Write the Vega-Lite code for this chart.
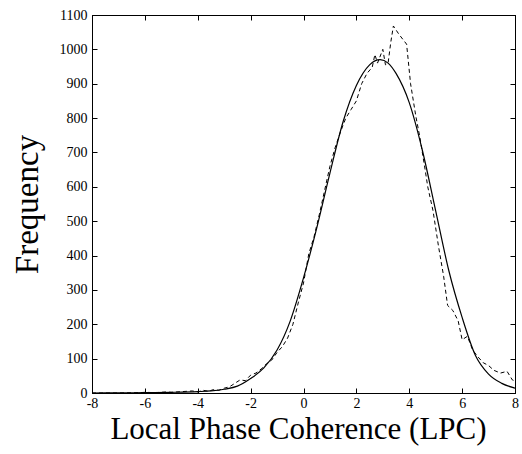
{
  "$schema": "https://vega.github.io/schema/vega-lite/v6.json",
  "autosize": "none",
  "width": 423,
  "height": 378,
  "padding": {"left": 92, "top": 15, "right": 7, "bottom": 61},
  "background": "white",
  "config": {
    "view": {"stroke": "black", "strokeWidth": 1},
    "axis": {
      "domain": true, "domainColor": "black", "grid": false,
      "tickColor": "black", "tickSize": -5, "labelColor": "black",
      "labelFont": "Liberation Sans Narrow", "labelFontSize": 14,
      "labelFlush": false, "labelOverlap": false,
      "titleFont": "Liberation Serif", "titleFontWeight": "normal", "titleColor": "black"
    }
  },
  "datasets": {
    "fit": [
      {"x": -8, "f": 0}, {"x": -7, "f": 0.5}, {"x": -6, "f": 1}, {"x": -5, "f": 2},
      {"x": -4, "f": 4}, {"x": -3.5, "f": 6}, {"x": -3, "f": 11}, {"x": -2.5, "f": 20},
      {"x": -2, "f": 42}, {"x": -1.5, "f": 73}, {"x": -1, "f": 125}, {"x": -0.5, "f": 210},
      {"x": 0, "f": 335}, {"x": 0.5, "f": 480}, {"x": 1, "f": 640}, {"x": 1.5, "f": 790},
      {"x": 2, "f": 895}, {"x": 2.5, "f": 955}, {"x": 2.9, "f": 970}, {"x": 3.2, "f": 960},
      {"x": 3.5, "f": 930}, {"x": 4, "f": 845}, {"x": 4.5, "f": 705}, {"x": 5, "f": 530},
      {"x": 5.5, "f": 355}, {"x": 6, "f": 220}, {"x": 6.5, "f": 110}, {"x": 7, "f": 55},
      {"x": 7.5, "f": 28}, {"x": 8, "f": 14}
    ],
    "hist": [
      {"x": -8, "f": 0}, {"x": -7, "f": 0}, {"x": -6.2, "f": 1}, {"x": -6, "f": 2},
      {"x": -5.6, "f": 1}, {"x": -5.2, "f": 3}, {"x": -5, "f": 2}, {"x": -4.6, "f": 4},
      {"x": -4.2, "f": 6}, {"x": -4, "f": 3}, {"x": -3.8, "f": 8}, {"x": -3.6, "f": 5},
      {"x": -3.4, "f": 10}, {"x": -3.2, "f": 8}, {"x": -3, "f": 14}, {"x": -2.8, "f": 18},
      {"x": -2.6, "f": 28}, {"x": -2.4, "f": 38}, {"x": -2.2, "f": 36}, {"x": -2, "f": 52},
      {"x": -1.8, "f": 58}, {"x": -1.6, "f": 70}, {"x": -1.4, "f": 85}, {"x": -1.2, "f": 96},
      {"x": -1, "f": 118}, {"x": -0.8, "f": 135}, {"x": -0.6, "f": 160}, {"x": -0.4, "f": 200},
      {"x": -0.2, "f": 262}, {"x": 0, "f": 320}, {"x": 0.2, "f": 405}, {"x": 0.4, "f": 455},
      {"x": 0.6, "f": 520}, {"x": 0.8, "f": 590}, {"x": 1, "f": 660}, {"x": 1.2, "f": 715},
      {"x": 1.4, "f": 760}, {"x": 1.6, "f": 800}, {"x": 1.8, "f": 825}, {"x": 2, "f": 850},
      {"x": 2.2, "f": 900}, {"x": 2.4, "f": 930}, {"x": 2.6, "f": 948}, {"x": 2.7, "f": 985},
      {"x": 2.8, "f": 960}, {"x": 3.0, "f": 1000}, {"x": 3.1, "f": 955}, {"x": 3.2, "f": 960},
      {"x": 3.3, "f": 1020}, {"x": 3.4, "f": 1068}, {"x": 3.6, "f": 1045}, {"x": 3.8, "f": 1025},
      {"x": 3.9, "f": 1015}, {"x": 4.05, "f": 900}, {"x": 4.25, "f": 805}, {"x": 4.4, "f": 745},
      {"x": 4.6, "f": 650}, {"x": 4.7, "f": 600}, {"x": 4.9, "f": 530}, {"x": 5.1, "f": 430},
      {"x": 5.3, "f": 340}, {"x": 5.45, "f": 255}, {"x": 5.65, "f": 240}, {"x": 5.85, "f": 210},
      {"x": 6.0, "f": 155}, {"x": 6.2, "f": 165}, {"x": 6.4, "f": 125}, {"x": 6.6, "f": 105},
      {"x": 6.8, "f": 88}, {"x": 7.0, "f": 80}, {"x": 7.2, "f": 66}, {"x": 7.45, "f": 58},
      {"x": 7.7, "f": 63}, {"x": 7.9, "f": 38}, {"x": 8, "f": 35}
    ]
  },
  "layer": [
    {
      "data": {"name": "fit"},
      "mark": {"type": "line", "color": "black", "strokeWidth": 1.2, "interpolate": "monotone", "clip": true},
      "encoding": {
        "x": {"field": "x", "type": "quantitative",
              "scale": {"domain": [-8, 8], "nice": false, "zero": false},
              "axis": {"orient": "bottom", "values": [-8, -6, -4, -2, 0, 2, 4, 6, 8], "title": "Local Phase Coherence (LPC)",
                       "labelExpr": "datum.value < 0 ? '-' + abs(datum.value) : '' + datum.value",
                       "titleFontSize": 31, "titlePadding": 4, "labelPadding": 8, "titleX": 206}},
        "y": {"field": "f", "type": "quantitative",
              "scale": {"domain": [0, 1100], "nice": false},
              "axis": {"orient": "left", "values": [0, 100, 200, 300, 400, 500, 600, 700, 800, 900, 1000, 1100], "title": "Frequency",
                       "labelExpr": "'' + datum.value",
                       "titleFontSize": 33, "titlePadding": 15, "labelPadding": 10}}
      }
    },
    {
      "data": {"name": "hist"},
      "mark": {"type": "line", "color": "black", "strokeWidth": 1, "strokeDash": [4, 3], "clip": true},
      "encoding": {
        "x": {"field": "x", "type": "quantitative",
              "axis": {"orient": "top", "values": [-8, -6, -4, -2, 0, 2, 4, 6, 8], "labels": false, "title": null}},
        "y": {"field": "f", "type": "quantitative",
              "axis": {"orient": "right", "values": [0, 100, 200, 300, 400, 500, 600, 700, 800, 900, 1000, 1100], "labels": false, "title": null}}
      }
    }
  ],
  "resolve": {"axis": {"x": "independent", "y": "independent"}}
}
